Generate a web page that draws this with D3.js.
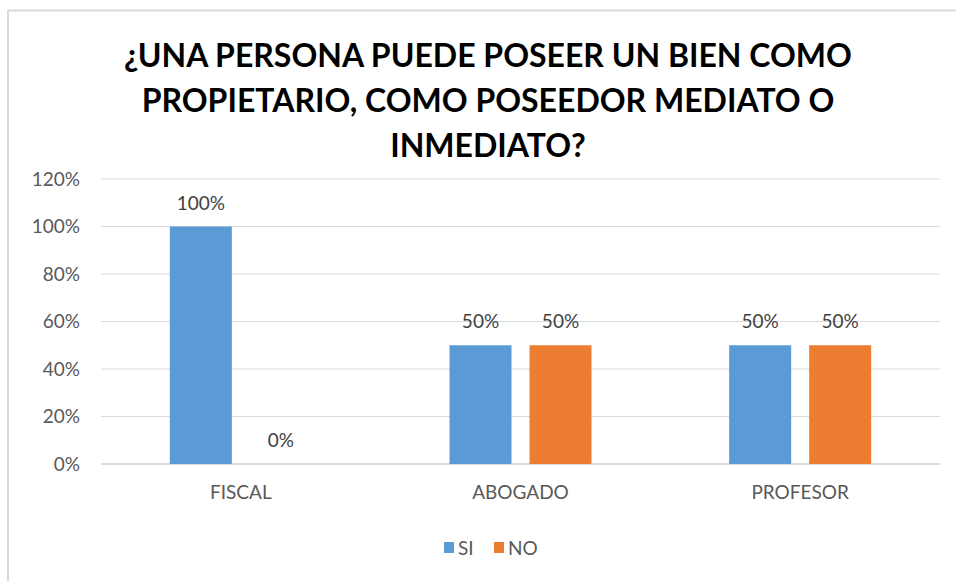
<!DOCTYPE html>
<html>
<head>
<meta charset="utf-8">
<script src="https://cdn.jsdelivr.net/npm/d3@7"></script>
<style>
  body { margin: 0; background: #fff; }
  text { font-family: "Lato", "Open Sans", sans-serif; }
</style>
</head>
<body>
<div id="chart"></div>
<script>
var categories = ['FISCAL', 'ABOGADO', 'PROFESOR'];
var seriesNames = ['SI', 'NO'];
var siValues = [1.0, 0.5, 0.5];
var noValues = [0.0, 0.5, 0.5];
var yTicks = [0, 0.2, 0.4, 0.6, 0.8, 1.0, 1.2];
var titleLines = ['¿UNA PERSONA PUEDE POSEER UN BIEN COMO', 'PROPIETARIO, COMO POSEEDOR MEDIATO O', 'INMEDIATO?'];

var colors = {SI: '#5b9bd5', NO: '#ed7d31'};
var width = 956, height = 581;

var svg = d3.select('#chart').append('svg')
    .attr('width', width)
    .attr('height', height);

// chart frame (only top and left edges visible)
svg.append('line').attr('x1', 8).attr('y1', 10.5).attr('x2', width).attr('y2', 10.5)
    .style('stroke', '#d9d9d9').style('stroke-width', 2);
svg.append('line').attr('x1', 8).attr('y1', 10).attr('x2', 8).attr('y2', height)
    .style('stroke', '#d9d9d9').style('stroke-width', 2);

// title
svg.append('g').selectAll('text')
    .data(titleLines)
  .enter().append('text')
    .attr('x', 488)
    .attr('y', function(d, i) { return 67 + i * 45; })
    .attr('text-anchor', 'middle')
    .style('font-size', '32px')
    .style('font-weight', 'bold')
    .style('fill', '#000')
    .text(function(d) { return d; });

var x0 = d3.scaleBand().domain(categories).range([101, 940]);
var x1 = d3.scaleBand().domain(seriesNames).range([0, 142]).paddingInner(0.225);
var y = d3.scaleLinear().domain([0, 1.2]).range([464, 179]);

// gridlines
svg.append('g').selectAll('line')
    .data(yTicks)
  .enter().append('line')
    .attr('x1', 101).attr('x2', 940)
    .attr('y1', function(d) { return y(d); })
    .attr('y2', function(d) { return y(d); })
    .style('stroke', function(d) { return d === 0 ? '#d0d0d0' : '#d9d9d9'; })
    .style('stroke-width', function(d) { return d === 0 ? 1.5 : 1; });

// y axis labels
var yAxis = d3.axisLeft(y).tickValues(yTicks).tickSize(0).tickPadding(0)
    .tickFormat(d3.format('.0%'));
var ya = svg.append('g').attr('transform', 'translate(80,0)').call(yAxis);
ya.select('.domain').remove();
ya.selectAll('text').style('font-size', '19px').style('fill', '#595959')
    .style('font-family', '"Lato", "Open Sans", sans-serif');

// x axis labels
var xAxis = d3.axisBottom(x0).tickSize(0).tickPadding(0);
var xa = svg.append('g').attr('transform', 'translate(0,485)').call(xAxis);
xa.select('.domain').remove();
xa.selectAll('text').style('font-size', '19px').style('fill', '#595959')
    .style('font-family', '"Lato", "Open Sans", sans-serif');

var rows = [];
categories.forEach(function(c, i) {
  rows.push({cat: c, key: 'SI', value: siValues[i]});
  rows.push({cat: c, key: 'NO', value: noValues[i]});
});

function barX(d) {
  return x0(d.cat) + (x0.bandwidth() - 142) / 2 + x1(d.key);
}

svg.append('g').selectAll('rect')
    .data(rows)
  .enter().append('rect')
    .attr('x', barX)
    .attr('y', function(d) { return y(d.value); })
    .attr('width', x1.bandwidth())
    .attr('height', function(d) { return y(0) - y(d.value); })
    .style('fill', function(d) { return colors[d.key]; });

// data labels
svg.append('g').selectAll('text')
    .data(rows)
  .enter().append('text')
    .attr('x', function(d) { return barX(d) + x1.bandwidth() / 2; })
    .attr('y', function(d) { return y(d.value) - 17; })
    .attr('text-anchor', 'middle')
    .style('font-size', '19px')
    .style('fill', '#404040')
    .text(function(d) { return d3.format('.0%')(d.value); });

// legend
var legend = svg.append('g').attr('transform', 'translate(444,548)');
var lx = [0, 50];
seriesNames.forEach(function(s, i) {
  legend.append('rect')
      .attr('x', lx[i]).attr('y', -6)
      .attr('width', 10).attr('height', 11)
      .style('fill', colors[s]);
  legend.append('text')
      .attr('x', lx[i] + 14).attr('y', 7)
      .style('font-size', '19px')
      .style('fill', '#595959')
      .text(s);
});
</script>
</body>
</html>
